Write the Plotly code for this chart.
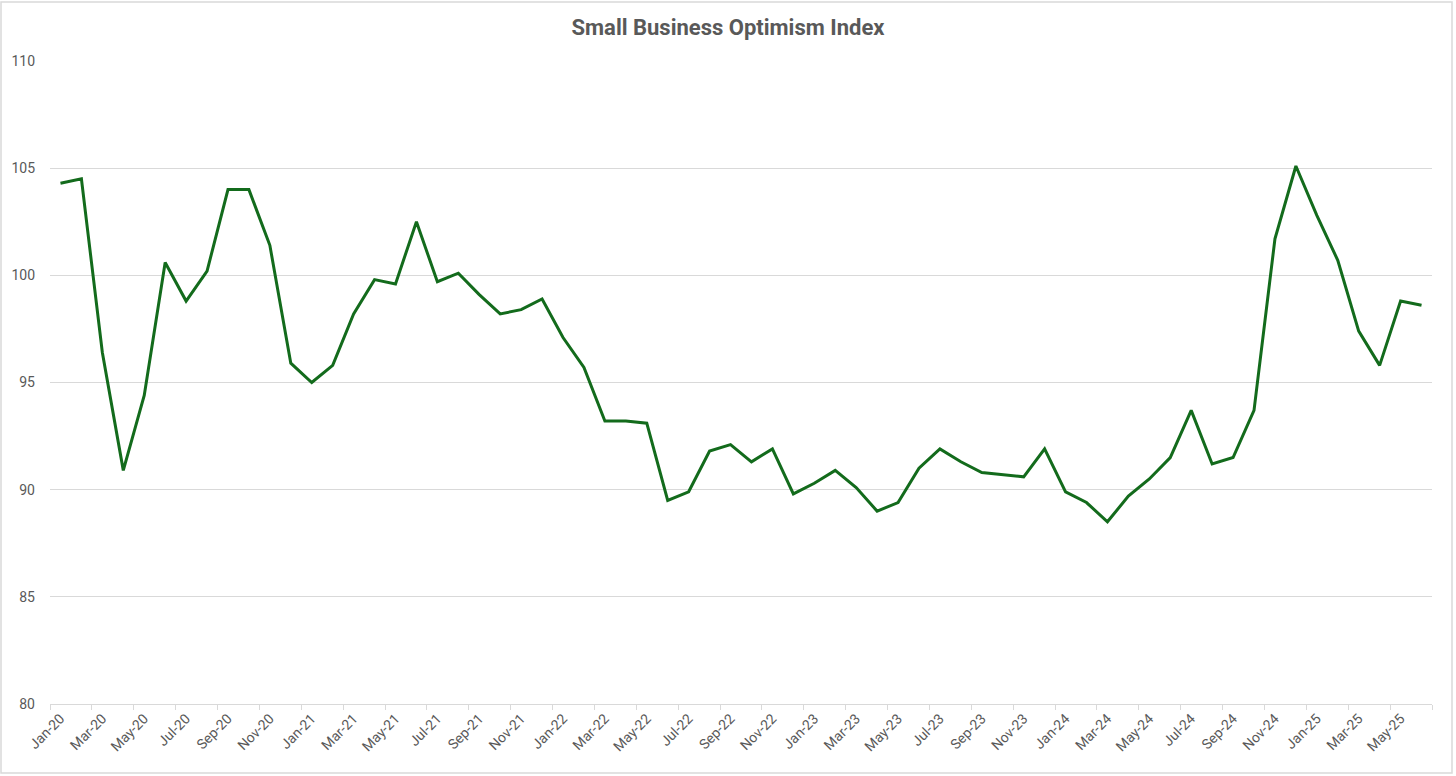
import plotly.graph_objects as go

months = ["Jan","Feb","Mar","Apr","May","Jun","Jul","Aug","Sep","Oct","Nov","Dec"]
labels = [f"{m}-{y:02d}" for y in range(20, 26) for m in months][:66]

values = [
    104.3, 104.5, 96.4, 90.9, 94.4, 100.6, 98.8, 100.2, 104.0, 104.0, 101.4, 95.9,
    95.0, 95.8, 98.2, 99.8, 99.6, 102.5, 99.7, 100.1, 99.1, 98.2, 98.4, 98.9,
    97.1, 95.7, 93.2, 93.2, 93.1, 89.5, 89.9, 91.8, 92.1, 91.3, 91.9, 89.8,
    90.3, 90.9, 90.1, 89.0, 89.4, 91.0, 91.9, 91.3, 90.8, 90.7, 90.6, 91.9,
    89.9, 89.4, 88.5, 89.7, 90.5, 91.5, 93.7, 91.2, 91.5, 93.7, 101.7, 105.1,
    102.8, 100.7, 97.4, 95.8, 98.8, 98.6,
]

yticks = [80, 85, 90, 95, 100, 105, 110]

idx = list(range(len(labels)))
major = idx[::2]
boundaries = [i - 0.5 for i in idx[::2]] + [len(labels) - 0.5]

fig = go.Figure()
fig.add_trace(go.Scatter(
    x=idx, y=values, mode="lines",
    line=dict(color="#136b1c", width=3),
    hoverinfo="skip", showlegend=False,
))

fig.update_layout(
    width=1456, height=776,
    paper_bgcolor="white", plot_bgcolor="white",
    margin=dict(l=50, r=24, t=61, b=72),
    title=dict(text="<b>Small Business Optimism Index</b>", x=0.5, xanchor="center",
               y=1 - 27/776, yanchor="middle",
               font=dict(family="Roboto", size=22, color="#595959")),
    font=dict(family="Roboto", color="#595959", size=14),
    xaxis=dict(
        range=[-0.5, len(labels) - 0.5],
        tickmode="array", tickvals=[idx[i] for i in major], ticktext=[labels[i] for i in major],
        tickangle=-45, ticks="", showgrid=False, zeroline=False,
        showline=True, linecolor="#d9d9d9", linewidth=1,
        tickfont=dict(size=14, color="#595959"),
        minor=dict(tickmode="array", tickvals=boundaries, ticks="outside",
                   ticklen=5, tickcolor="#d9d9d9", showgrid=False),
    ),
    yaxis=dict(
        range=[80, 110], tickmode="array", tickvals=yticks,
        showgrid=True, gridcolor="#d9d9d9", gridwidth=1, zeroline=False,
        showline=False, ticks="", tickfont=dict(size=14, color="#595959"),
        ticklabelstandoff=14,
    ),
    shapes=[dict(type="rect", xref="paper", yref="paper", x0=-49/1382, x1=1 + 20/1382,
                 y0=-69/643, y1=1 + 59/643,
                 line=dict(color="#d9d9d9", width=1.5), fillcolor="rgba(0,0,0,0)", layer="below")],
)

fig.write_html("out.html", config={"displayModeBar": False},
               post_script="document.body.style.margin='0px';")
